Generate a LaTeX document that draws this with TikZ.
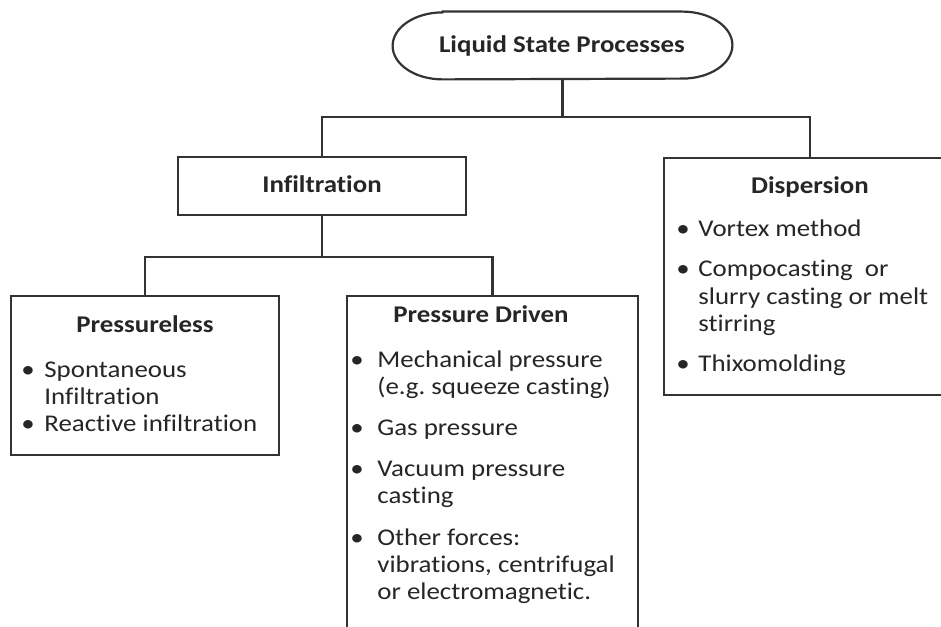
\documentclass[tikz,border=0pt]{standalone}
\usepackage{fontspec}
\setmainfont[FakeStretch=1.12,Ligatures=NoCommon]{Carlito}
\usetikzlibrary{calc}
\tikzset{connector/.style={line width=1.1pt, draw=black!80}}
\tikzset{processBox/.style={draw=black!80, line width=1.1pt, inner sep=0pt, fill=white}}
\tikzset{titleText/.style={anchor=base, inner sep=0pt, text=black!85, font=\fontsize{12}{13.5}\selectfont\bfseries}}
\tikzset{itemText/.style={anchor=base west, inner sep=0pt, text=black!85, font=\fontsize{12}{13.5}\selectfont}}
\tikzset{itemBullet/.style={anchor=base, inner sep=0pt, text=black!85, font=\fontsize{12}{13.5}\selectfont}}

\begin{document}
\begin{tikzpicture}[x=0.5pt,y=0.5pt]
\useasboundingbox (0,0) rectangle (941,626);
\clip (0,0) rectangle (941,626);

% boxes
\node[inner sep=0pt, minimum width=169.5pt, minimum height=33.5pt] (lsp) at (562.5,580.5) {};
\draw[connector] ($(lsp.north west)+(50,0)$) -- ($(lsp.north east)+(-50,0)$)
  arc[start angle=90, end angle=-90, x radius=50, y radius=33.5]
  -- ($(lsp.south west)+(50,0)$)
  arc[start angle=270, end angle=90, x radius=50, y radius=33.5] -- cycle;
\node[processBox, minimum width=144pt, minimum height=29pt] (infl) at (322,440) {};
\node[processBox, minimum width=146pt, minimum height=118.5pt] (disp) at (810,349.5) {};
\node[processBox, minimum width=134pt, minimum height=79.5pt] (pless) at (145,250.5) {};
\node[processBox, minimum width=145.5pt, minimum height=167pt] (pdriv) at (492.5,163) {};

% tree lines
\coordinate (topJoin) at (562.5,509);
\coordinate (infJoin) at (322,369);
\draw[connector] (lsp.south) -- (topJoin);
\draw[connector] (infl.north) |- (topJoin) -| (disp.north);
\draw[connector] (infl.south) -- (infJoin);
\draw[connector] (pless.north) |- (infJoin) -| (pdriv.north);

% titles
\node[titleText] (lspTitle) at (562,573) {Liquid State Processes};
\node[titleText] (inflTitle) at (322,433) {Infiltration};
\node[titleText] (dispTitle) at (810,432) {Dispersion};
\node[titleText] (plessTitle) at (145,293) {Pressureless};
\node[titleText] (pdrivTitle) at (481,303) {Pressure Driven};

% pressureless items
\node[itemBullet] (plB1) at (28,248) {\textbullet};
\node[itemText] (plT1) at (44,248) {Spontaneous};
\node[itemText] (plT2) at (44,221) {Infiltration};
\node[itemBullet] (plB2) at (28,194) {\textbullet};
\node[itemText] (plT3) at (44,194) {Reactive infiltration};

% pressure driven items
\node[itemBullet] (pdB1) at (357,258) {\textbullet};
\node[itemText] (pdT1) at (377,258) {Mechanical pressure};
\node[itemText] (pdT2) at (377,231) {(e.g.\ squeeze casting)};
\node[itemBullet] (pdB2) at (357,190) {\textbullet};
\node[itemText] (pdT3) at (377,190) {Gas pressure};
\node[itemBullet] (pdB3) at (357,149) {\textbullet};
\node[itemText] (pdT4) at (377,149) {Vacuum pressure};
\node[itemText] (pdT5) at (377,122) {casting};
\node[itemBullet] (pdB4) at (357,81) {\textbullet};
\node[itemText] (pdT6) at (377,81) {Other forces:};
\node[itemText] (pdT7) at (377,54) {vibrations, centrifugal};
\node[itemText] (pdT8) at (377,27) {or electromagnetic.};

% dispersion items
\node[itemBullet] (dsB1) at (683,389) {\textbullet};
\node[itemText] (dsT1) at (698,389) {Vortex method};
\node[itemBullet] (dsB2) at (683,349) {\textbullet};
\node[itemText] (dsT2) at (698,349) {Compocasting\ \ or};
\node[itemText] (dsT3) at (698,321) {slurry casting or melt};
\node[itemText] (dsT4) at (698,294) {stirring};
\node[itemBullet] (dsB3) at (683,254) {\textbullet};
\node[itemText] (dsT5) at (698,254) {Thixomolding};
\end{tikzpicture}
\end{document}
